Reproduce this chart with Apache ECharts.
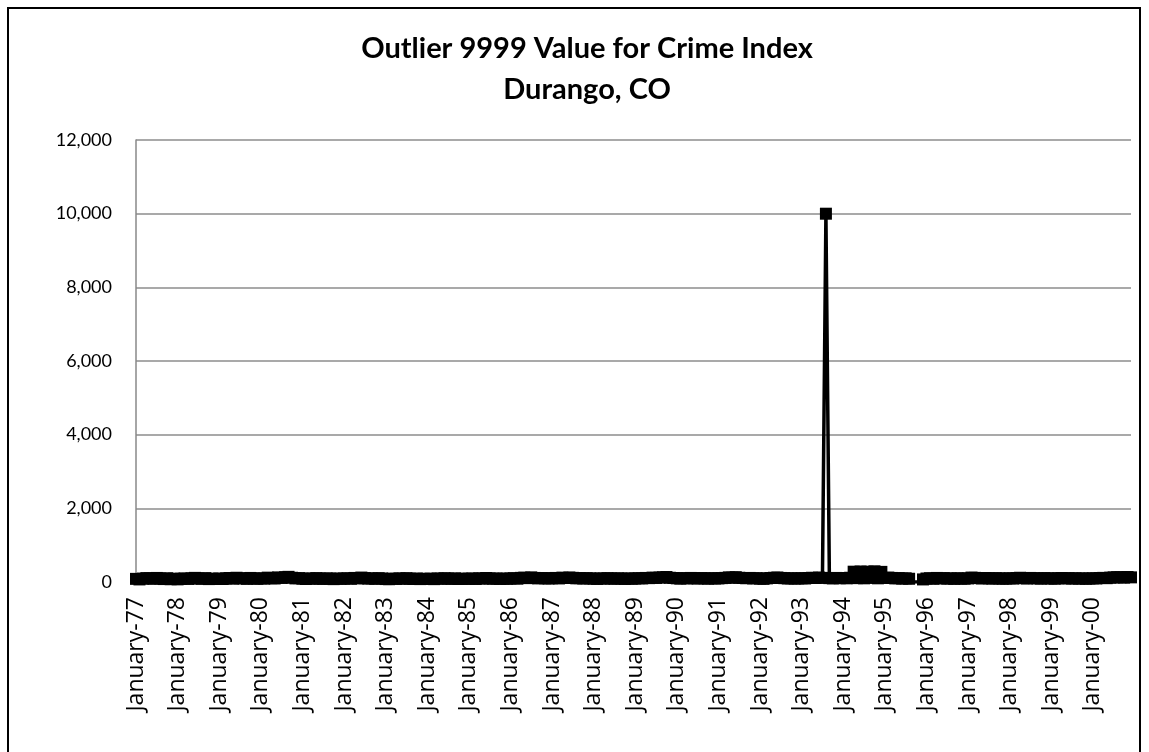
<!DOCTYPE html>
<html>
<head>
<meta charset="utf-8">
<script src="https://cdn.jsdelivr.net/npm/echarts@6/dist/echarts.min.js"></script>
<style>
  html, body { margin: 0; padding: 0; background: #ffffff; }
  #chart { width: 1149px; height: 752px; }
</style>
</head>
<body>
<div id="chart"></div>
<script>
// Monthly crime index, Durango, CO, January 1977 – December 2000
const monthNames = ['January', 'February', 'March', 'April', 'May', 'June',
  'July', 'August', 'September', 'October', 'November', 'December'];
const years = [1977, 1978, 1979, 1980, 1981, 1982, 1983, 1984, 1985, 1986, 1987, 1988,
  1989, 1990, 1991, 1992, 1993, 1994, 1995, 1996, 1997, 1998, 1999, 2000];

const v1977 = [85, 70, 92, 105, 98, 88, 110, 95, 80, 102, 76, 90];
const v1978 = [72, 88, 96, 84, 100, 112, 93, 87, 105, 79, 91, 83];
const v1979 = [95, 81, 99, 108, 90, 115, 102, 97, 86, 110, 94, 88];
const v1980 = [100, 92, 118, 104, 96, 125, 110, 130, 140, 115, 98, 106];
const v1981 = [90, 82, 97, 88, 105, 93, 84, 99, 91, 78, 95, 86];
const v1982 = [94, 101, 88, 110, 97, 120, 105, 92, 99, 87, 103, 96];
const v1983 = [80, 76, 92, 85, 98, 88, 104, 90, 82, 95, 79, 87];
const v1984 = [84, 91, 78, 96, 88, 102, 93, 85, 99, 81, 90, 86];
const v1985 = [89, 95, 83, 100, 92, 108, 97, 88, 94, 85, 91, 87];
const v1986 = [96, 103, 90, 112, 118, 105, 125, 110, 98, 107, 101, 95];
const v1987 = [102, 110, 97, 118, 108, 122, 113, 100, 105, 95, 103, 98];
const v1988 = [90, 85, 98, 92, 104, 96, 88, 100, 93, 84, 97, 89];
const v1989 = [95, 102, 98, 110, 105, 118, 112, 120, 128, 135, 115, 108];
const v1990 = [100, 92, 105, 97, 110, 102, 94, 106, 99, 90, 103, 96];
const v1991 = [98, 105, 112, 125, 118, 130, 115, 108, 102, 110, 97, 104];
const v1992 = [92, 86, 99, 108, 115, 122, 110, 104, 96, 100, 93, 98];
const v1993 = [102, 96, 108, 115, 110, 120, 112, 9999, 105, 98, 110, 102];
const v1994 = [108, 100, 115, 280, 105, 285, 100, 280, 110, 290, 100, 275];
const v1995 = [110, 120, 110, 98, 105, 92, 100, 88, 0, 0, 0, 70];
const v1996 = [95, 102, 88, 110, 97, 105, 92, 99, 86, 101, 94, 90];
const v1997 = [98, 120, 112, 105, 96, 108, 100, 92, 104, 97, 89, 95];
const v1998 = [100, 94, 108, 115, 102, 96, 110, 104, 98, 92, 105, 99];
const v1999 = [96, 90, 102, 108, 97, 104, 94, 100, 92, 98, 88, 95];
const v2000 = [100, 96, 108, 112, 104, 118, 125, 130, 128, 120, 135, 126];

const yearlyValues = [v1977, v1978, v1979, v1980, v1981, v1982, v1983, v1984,
  v1985, v1986, v1987, v1988, v1989, v1990, v1991, v1992, v1993, v1994,
  v1995, v1996, v1997, v1998, v1999, v2000];

const yTicks = [0, 2000, 4000, 6000, 8000, 10000, 12000];

// Category labels like "January-77"
const categories = [];
years.forEach(function (y) {
  monthNames.forEach(function (m) {
    categories.push(m + '-' + String(y).slice(2));
  });
});

// Missing months are drawn at zero without a marker
const seriesData = [];
yearlyValues.forEach(function (arr) {
  arr.forEach(function (v) {
    seriesData.push(v === 0 ? { value: 0, symbol: 'none' } : v);
  });
});

const chart = echarts.init(document.getElementById('chart'), null, { renderer: 'canvas' });

chart.setOption({
  backgroundColor: '#ffffff',
  animation: false,
  title: {
    text: 'Outlier 9999 Value for Crime Index\nDurango, CO',
    left: 582,
    textAlign: 'center',
    top: 23,
    textStyle: {
      fontFamily: 'Lato',
      fontWeight: 'bold',
      fontSize: 29,
      lineHeight: 41,
      color: '#000000'
    }
  },
  graphic: [{
    type: 'rect',
    shape: { x: 8, y: 8, width: 1132, height: 780 },
    style: { fill: 'none', stroke: '#000000', lineWidth: 2 },
    silent: true
  }],
  grid: {
    left: 136,
    right: 18,
    top: 140,
    bottom: 170,
    containLabel: false
  },
  xAxis: {
    type: 'category',
    data: categories,
    boundaryGap: false,
    axisLine: { show: true, lineStyle: { color: '#888888', width: 1 } },
    axisTick: { show: false },
    axisLabel: {
      interval: 11,
      rotate: 90,
      margin: 15,
      fontFamily: 'Open Sans',
      fontSize: 23,
      color: '#000000'
    },
    splitLine: { show: false }
  },
  yAxis: {
    type: 'value',
    min: yTicks[0],
    max: yTicks[yTicks.length - 1],
    interval: 2000,
    axisLine: { show: true, lineStyle: { color: '#888888', width: 1.5 } },
    axisTick: { show: false },
    axisLabel: {
      margin: 24,
      fontFamily: 'Lato',
      fontSize: 18,
      color: '#000000',
      formatter: function (v) { return v.toLocaleString('en-US'); }
    },
    splitLine: { show: true, lineStyle: { color: '#8c8c8c', width: 1.5 } }
  },
  series: [{
    name: 'Crime Index',
    type: 'line',
    data: seriesData,
    symbol: 'rect',
    symbolSize: 12,
    showAllSymbol: true,
    lineStyle: { color: '#000000', width: 3.5 },
    itemStyle: { color: '#000000', borderWidth: 0 }
  }]
});
</script>
</body>
</html>
